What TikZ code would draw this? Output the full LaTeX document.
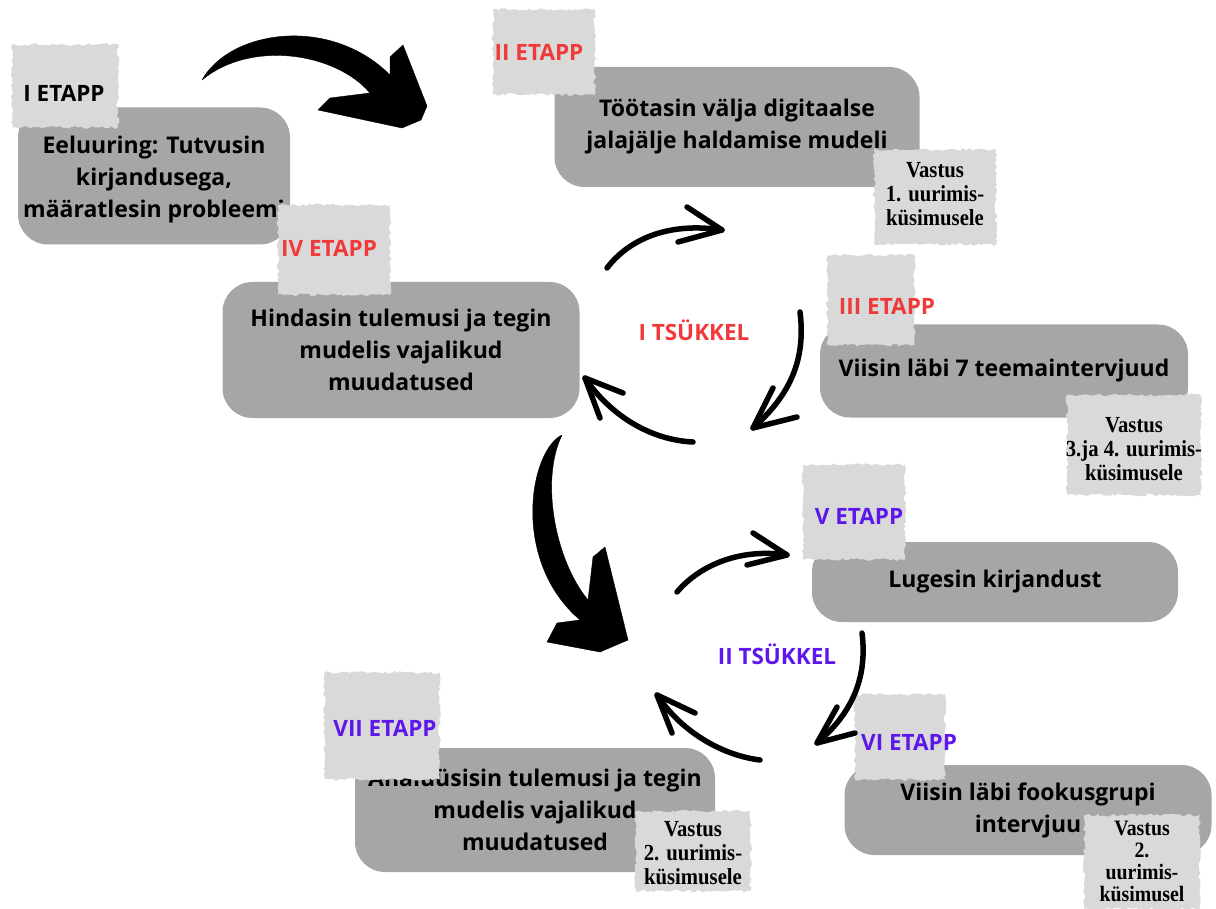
\documentclass[tikz,border=0pt]{standalone}
\usepackage{fontspec}
\setmainfont{Open Sans}
\newfontfamily\vfont[FakeStretch=0.9]{Liberation Serif}
\usetikzlibrary{decorations.pathmorphing}
\definecolor{boxgray}{HTML}{A6A6A6}
\definecolor{taggray}{HTML}{D9D9D9}
\definecolor{cred}{HTML}{F03A3A}
\definecolor{cpurple}{HTML}{5E17EB}
\tikzset{
  stepbox/.style={fill=boxgray, rounded corners=30pt, inner sep=0pt, align=center,
    font=\bfseries\fontsize{23}{32}\selectfont},
  tag/.style={fill=taggray, inner sep=0pt, decorate,
    decoration={random steps, segment length=3pt, amplitude=1.4pt}},
  tagtext/.style={font=\bfseries\fontsize{22.5}{26}\selectfont, inner sep=0pt},
  vastus/.style={font=\vfont\bfseries\fontsize{23}{24}\selectfont, align=center, inner sep=0pt},
  cyc/.style={line width=5.5pt, line cap=round, line join=round},
  bigarrow/.style={fill=black, line join=round},
}
\begin{document}
\begin{tikzpicture}[x=1pt, y=-1pt]
\pgfmathsetseed{7}
\useasboundingbox (0,0) rectangle (1216,909);

% main boxes
\node[stepbox, minimum width=272pt, minimum height=137pt] (b1) at (154,176) {};
\node[stepbox] (b1t) at (154,180)
  {Eeluuring: Tutvusin\\kirjandusega,\\määratlesin probleemi};
\node[stepbox, minimum width=365pt, minimum height=120pt] (b2) at (737,127)
  {Töötasin välja digitaalse\\jalajälje haldamise mudeli};
\node[stepbox, minimum width=368pt, minimum height=93pt] (b3) at (1004,371)
  {Viisin läbi 7 teemaintervjuud};
\node[stepbox, minimum width=357pt, minimum height=136pt] (b4) at (401,350)
  {Hindasin tulemusi ja tegin\\mudelis vajalikud\\muudatused};
\node[stepbox, minimum width=366pt, minimum height=80pt] (b5) at (995,582)
  {Lugesin kirjandust};
\node[stepbox, minimum width=367pt, minimum height=90pt] (b6) at (1028,810)
  {Viisin läbi fookusgrupi\\intervjuu};
\node[stepbox, minimum width=360pt, minimum height=124pt] (b7) at (535,810)
  {Analüüsisin tulemusi ja tegin\\mudelis vajalikud\\muudatused};

% stage tags
\node[tag, minimum width=106pt, minimum height=83pt] (t1) at (65,86) {};
\node[tag, minimum width=102pt, minimum height=85pt] (t2) at (544,52) {};
\node[tag, minimum width=87pt, minimum height=90pt] (t3) at (871,300) {};
\node[tag, minimum width=112pt, minimum height=90pt] (t4) at (334,250) {};
\node[tag, minimum width=102pt, minimum height=95pt] (t5) at (854,512) {};
\node[tag, minimum width=90pt, minimum height=85pt] (t6) at (900,737) {};
\node[tag, minimum width=115pt, minimum height=107pt] (t7) at (382,726) {};

\node[tagtext, text=black] (l1) at (64,93) {I ETAPP};
\node[tagtext, text=cred] (l2) at (539,52) {II ETAPP};
\node[tagtext, text=cred] (l3) at (887,306) {III ETAPP};
\node[tagtext, text=cred] (l4) at (329,248) {IV ETAPP};
\node[tagtext, text=cpurple] (l5) at (859,516) {V ETAPP};
\node[tagtext, text=cpurple] (l6) at (909,742) {VI ETAPP};
\node[tagtext, text=cpurple] (l7) at (385,728) {VII ETAPP};

% answer tags
\node[tag, minimum width=122pt, minimum height=95pt] (q1) at (935,197) {};
\node[vastus] (v1) at (935,194) {Vastus\\1. uurimis-\\küsimusele};
\node[tag, minimum width=134pt, minimum height=100pt] (q3) at (1134,445) {};
\node[vastus] (v3) at (1134,449) {Vastus\\3.ja 4. uurimis-\\küsimusele};
\node[tag, minimum width=115pt, minimum height=80pt] (q2) at (693,851) {};
\node[vastus] (v2) at (693,853) {Vastus\\2. uurimis-\\küsimusele};
\node[tag, minimum width=115pt, minimum height=94pt] (q4) at (1142,862) {};
\node[vastus, font=\vfont\bfseries\fontsize{22}{22}\selectfont] (v4) at (1142,861)
  {Vastus\\2.\\uurimis-\\küsimusel};

% cycle labels
\node[tagtext, text=cred] (c1) at (694,330) {I TSÜKKEL};
\node[tagtext, text=cpurple] (c2) at (777,654) {II TSÜKKEL};

% big arrows
\draw[bigarrow] (202,80) .. controls (230,30) and (330,15) .. (390,75)
  -- (390,57) -- (403,45) -- (427,106) -- (421,120) -- (402,128) -- (318,110)
  -- (330,98) -- (370,93) .. controls (335,52) and (250,40) .. (202,80) -- cycle;
\draw[bigarrow] (562,435) .. controls (530,450) and (510,560) .. (580,620)
  -- (557,623) -- (547,642) -- (600,652) -- (628,640) -- (605,547) -- (593,557)
  -- (588,600) .. controls (555,560) and (540,480) .. (562,435) -- cycle;

% cycle I arrows
\coordinate (a1) at (607,268); \coordinate (a2) at (722,230);
\coordinate (b1s) at (800,312); \coordinate (b2t) at (753,428);
\coordinate (c1s) at (693,442); \coordinate (c2t) at (585,378);
\draw[cyc] (a1) .. controls (630,238) and (670,222) .. (a2);
\draw[cyc] (687,207) -- (a2) -- (678,242);
\draw[cyc] (b1s) .. controls (806,360) and (790,395) .. (b2t);
\draw[cyc] (773,388) -- (b2t) -- (797,417);
\draw[cyc] (c1s) .. controls (650,440) and (610,415) .. (c2t);
\draw[cyc] (623,393) -- (c2t) -- (600,418);

% cycle II arrows
\coordinate (d1) at (677,592); \coordinate (d2) at (787,555);
\coordinate (e1) at (862,633); \coordinate (e2) at (817,743);
\coordinate (f1) at (760,760); \coordinate (f2) at (657,695);
\draw[cyc] (d1) .. controls (700,565) and (740,548) .. (d2);
\draw[cyc] (753,533) -- (d2) -- (747,565);
\draw[cyc] (e1) .. controls (868,680) and (850,715) .. (e2);
\draw[cyc] (837,707) -- (e2) -- (855,733);
\draw[cyc] (f1) .. controls (720,755) and (680,730) .. (f2);
\draw[cyc] (695,713) -- (f2) -- (672,733);
\end{tikzpicture}
\end{document}
